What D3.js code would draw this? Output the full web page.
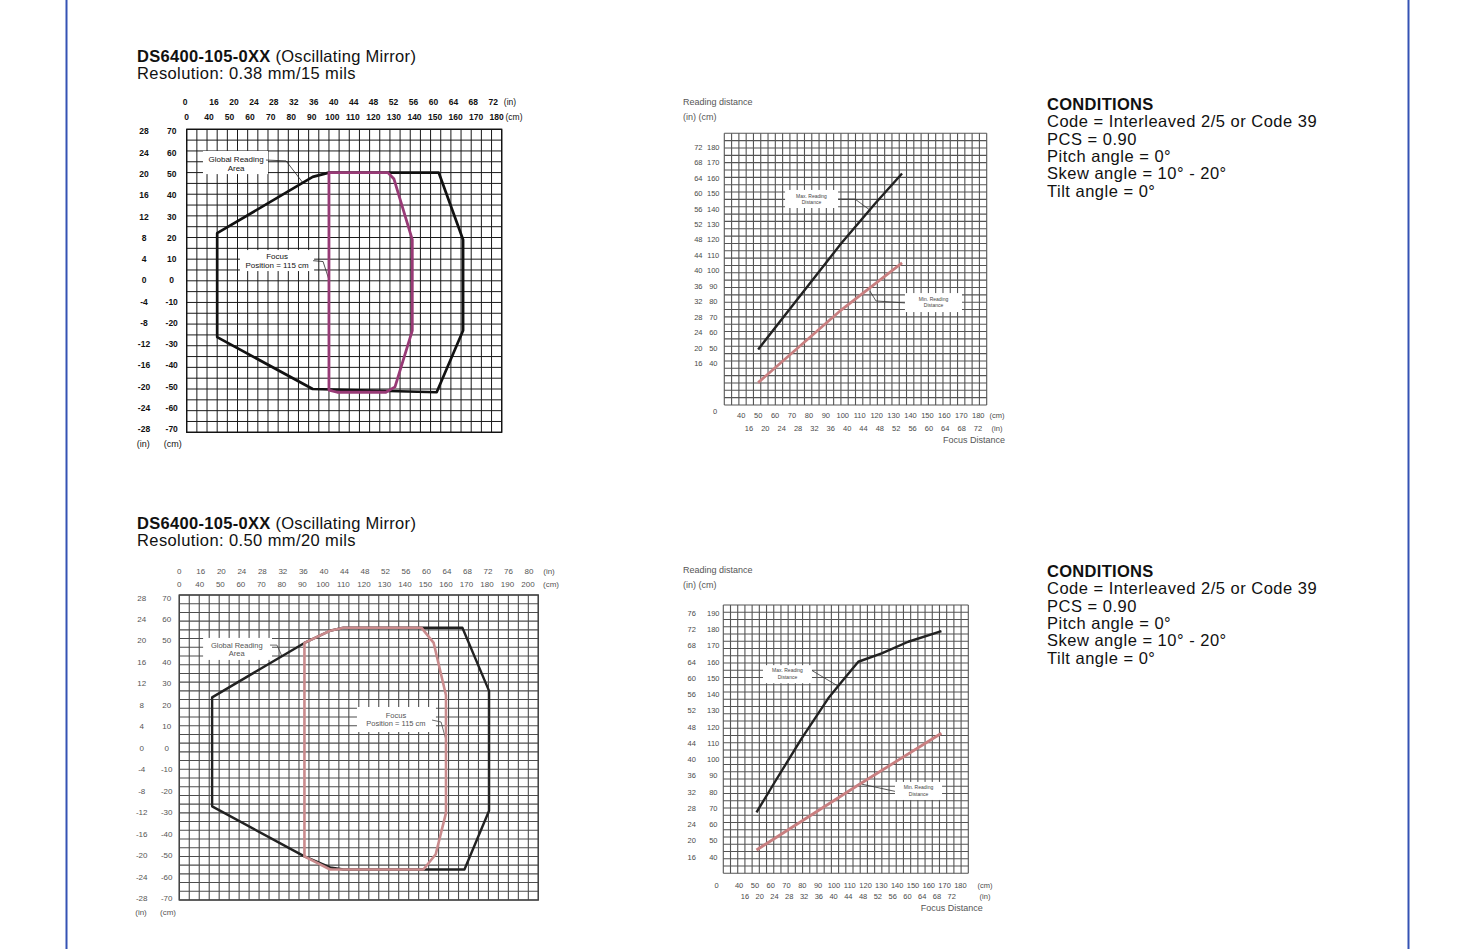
<!DOCTYPE html>
<html><head><meta charset="utf-8">
<script src="https://cdn.jsdelivr.net/npm/d3@7"></script>
<style>
html,body{margin:0;padding:0;background:#fff;}
svg{display:block;font-family:"Liberation Sans",Arial,Helvetica,sans-serif;}
</style>
</head><body>
<svg id="c" width="1470" height="949"></svg>
<script>
// ================= DATA =================
// Chart A : reading area, resolution 0.38 mm (cm units)
const aXTicksCm = [30,40,50,60,70,80,90,100,110,120,130,140,150,160,170,180];
const aXLabelsCm = ["0","40","50","60","70","80","90","100","110","120","130","140","150","160","170","180"];
const aXLabelsIn = ["0","16","20","24","28","32","36","40","44","48","52","56","60","64","68","72"];
const aYTicksCm = [70,60,50,40,30,20,10,0,-10,-20,-30,-40,-50,-60,-70];
const aYLabelsIn = ["28","24","20","16","12","8","4","0","-4","-8","-12","-16","-20","-24","-28"];
const aGlobalArea = [[45,22],[92,48],[100,50],[154,50],[166,19],[166,-23],[153,-51.5],[92,-50],[45,-26]];
const aFocusArea = [[100,50],[129,50],[132,47],[141,19],[141,-23],[132.5,-49],[128,-51.5],[104,-51.5],[100,-50.5]];

// Chart B : reading distance vs focus distance, 0.38 mm (cm)
const bXTicksCm = [40,50,60,70,80,90,100,110,120,130,140,150,160,170,180];
const bXLabelsIn = ["16","20","24","28","32","36","40","44","48","52","56","60","64","68","72"];
const bYTicksCm = [180,170,160,150,140,130,120,110,100,90,80,70,60,50,40];
const bYLabelsIn = ["72","68","64","60","56","52","48","44","40","36","32","28","24","20","16"];
const bMaxDistance = [[50,49],[99,117.6],[119,143.4],[135,163]];
const bMinDistance = [[50,27.5],[99,74.5],[135,105]];

// Chart C : reading area, resolution 0.50 mm (cm units)
const cXTicksCm = [30,40,50,60,70,80,90,100,110,120,130,140,150,160,170,180,190,200];
const cXLabelsCm = ["0","40","50","60","70","80","90","100","110","120","130","140","150","160","170","180","190","200"];
const cXLabelsIn = ["0","16","20","24","28","32","36","40","44","48","52","56","60","64","68","72","76","80"];
const cYTicksCm = [70,60,50,40,30,20,10,0,-10,-20,-30,-40,-50,-60,-70];
const cYLabelsIn = ["28","24","20","16","12","8","4","0","-4","-8","-12","-16","-20","-24","-28"];
const cGlobalArea = [[46,23],[91,48],[103.5,53.6],[110,55],[168,55],[181,26],[181,-29],[169,-56],[110,-56],[103.5,-55],[91,-50],[46,-27]];
const cFocusArea = [[91,48],[103.5,53.6],[110,55],[148,55],[154,48],[160,24],[160,-30],[155,-49],[149,-56],[103.5,-56],[91,-50]];

// Chart D : reading distance vs focus distance, 0.50 mm (cm)
const dXTicksCm = [40,50,60,70,80,90,100,110,120,130,140,150,160,170,180];
const dXLabelsIn = ["16","20","24","28","32","36","40","44","48","52","56","60","64","68","72"];
const dYTicksCm = [190,180,170,160,150,140,130,120,110,100,90,80,70,60,50,40];
const dYLabelsIn = ["76","72","68","64","60","56","52","48","44","40","36","32","28","24","20","16"];
const dMaxDistance = [[51,67.5],[62.7,86.3],[79.6,113],[96.4,137.6],[104.9,147.8],[115.4,160.1],[130.2,165.3],[147,172.4],[168,179]];
const dMinDistance = [[51,44.3],[115.4,84.3],[168,116.1]];

// Text
const titleBold = "DS6400-105-0XX";
const titleRest = " (Oscillating Mirror)";
const resolutions = ["Resolution: 0.38 mm/15 mils","Resolution: 0.50 mm/20 mils"];
const conditions = ["Code = Interleaved 2/5 or Code 39","PCS = 0.90","Pitch angle = 0°","Skew angle = 10° - 20°","Tilt angle = 0°"];

// ================= DRAW =================
const svg = d3.select("#c");
svg.append("rect").attr("width",1470).attr("height",949).attr("fill","#fff");
[66.5,1408.5].forEach(px=>svg.append("line").attr("x1",px).attr("x2",px).attr("y1",0).attr("y2",949)
  .attr("stroke","#3552b4").attr("stroke-width",2));

function header(y0, res){
  const t = svg.append("text").attr("x",137).attr("y",y0).attr("font-size",16.5).attr("letter-spacing",0.3).attr("fill","#111");
  t.append("tspan").attr("font-weight","bold").text(titleBold);
  t.append("tspan").text(titleRest);
  svg.append("text").attr("x",137).attr("y",y0+17.5).attr("font-size",16.5).attr("letter-spacing",0.4).attr("fill","#111").text(res);
}
function conditionsBlock(y0){
  svg.append("text").attr("x",1047).attr("y",y0).attr("font-size",16.5).attr("letter-spacing",0.3)
    .attr("font-weight","bold").attr("fill","#111").text("CONDITIONS");
  conditions.forEach((c,i)=>svg.append("text").attr("x",1047).attr("y",y0+17.3*(i+1))
    .attr("font-size",16.5).attr("letter-spacing",0.5).attr("fill","#111").text(c));
}
header(61.7, resolutions[0]);
header(528.7, resolutions[1]);
conditionsBlock(110);
conditionsBlock(577);

function makeChart(o){
  const x = d3.scaleLinear().domain(o.xDom).range(o.xRange);
  const y = d3.scaleLinear().domain(o.yDom).range(o.yRange);
  const g = svg.append("g");
  const gx = d3.range(o.cellsX+1).map(i=>o.xDom[0]+i*(o.xDom[1]-o.xDom[0])/o.cellsX);
  const gy = d3.range(o.cellsY+1).map(i=>o.yDom[0]+i*(o.yDom[1]-o.yDom[0])/o.cellsY);
  g.selectAll(null).data(gx).join("line")
    .attr("x1",d=>x(d)).attr("x2",d=>x(d)).attr("y1",o.yRange[0]).attr("y2",o.yRange[1])
    .attr("stroke",o.gridColor).attr("stroke-width",o.gridWidth);
  g.selectAll(null).data(gy).join("line")
    .attr("y1",d=>y(d)).attr("y2",d=>y(d)).attr("x1",o.xRange[0]).attr("x2",o.xRange[1])
    .attr("stroke",o.gridColor).attr("stroke-width",o.gridWidth);
  g.append("rect").attr("x",o.xRange[0]).attr("y",o.yRange[0])
    .attr("width",o.xRange[1]-o.xRange[0]).attr("height",o.yRange[1]-o.yRange[0])
    .attr("fill","none").attr("stroke",o.borderColor).attr("stroke-width",o.gridWidth*1.3);
  return {x,y,g};
}
function label(g,px,py,txt,o){
  return g.append("text").attr("x",px).attr("y",py).attr("dy","0.35em")
    .attr("text-anchor",o.anchor||"middle").attr("font-size",o.size)
    .attr("font-weight",o.weight||"normal").attr("fill",o.fill).text(txt);
}
function annotation(ch, box, lines, textAt, leader, st){
  const {x,y,g} = ch;
  g.append("rect").attr("x",x(box[0])).attr("y",y(box[1])).attr("width",x(box[2])-x(box[0]))
    .attr("height",y(box[3])-y(box[1])).attr("fill","#fff");
  lines.forEach((t,i)=>label(g,x(textAt[0]),y(textAt[1])+i*st.lineH,t,{size:st.size,fill:st.fill}));
  g.append("path").attr("d",d3.line().x(d=>x(d[0])).y(d=>y(d[1]))(leader))
    .attr("fill","none").attr("stroke",st.leader).attr("stroke-width",0.8);
}
const lineGen = ch => d3.line().x(d=>ch.x(d[0])).y(d=>ch.y(d[1]));

// ---------- Chart A ----------
{
  const ch = makeChart({xDom:[30,185],yDom:[70,-70],xRange:[186.7,501.7],yRange:[129.3,432.3],
    cellsX:31,cellsY:28,gridColor:"#1a1a1a",gridWidth:1,borderColor:"#111"});
  const st = {size:8.5,weight:"bold",fill:"#111"};
  const lx = d3.scaleLinear().domain([40,180]).range([209,496.7]);
  const lxi = d3.scaleLinear().domain([1,15]).range([214,493.3]);
  const ly = d3.scaleLinear().domain([70,-70]).range([131.5,429.3]);
  aXTicksCm.forEach((v,i)=>{
    label(ch.g,i?lx(v):186.7,117.3,aXLabelsCm[i],st);
    label(ch.g,i?lxi(i):185,102.3,aXLabelsIn[i],st);
  });
  label(ch.g,510,102.3,"(in)",{size:8.5,fill:"#111"});
  label(ch.g,514,117.3,"(cm)",{size:8.5,fill:"#111"});
  aYTicksCm.forEach((v,i)=>{
    label(ch.g,171.7,ly(v),String(v),st);
    label(ch.g,144,ly(v),aYLabelsIn[i],st);
  });
  label(ch.g,143.3,444.3,"(in)",{size:9,fill:"#111"});
  label(ch.g,172.7,444.3,"(cm)",{size:9,fill:"#111"});
  const an = {size:8,fill:"#111",lineH:8.8,leader:"#222"};
  annotation(ch,[38,60,70,49.3],["Global Reading","Area"],[54.3,56.3],[[69,55.8],[78.9,55.4],[87,45.5]],an);
  annotation(ch,[56.2,14.2,92.7,4.5],["Focus","Position = 115 cm"],[74.5,11.2],[[92.2,9.3],[97.1,8.9],[100,0.5]],an);
  ch.g.append("path").attr("d",lineGen(ch)(aGlobalArea)+"Z").attr("fill","none")
    .attr("stroke","#111").attr("stroke-width",2.7).attr("stroke-linejoin","round");
  ch.g.append("path").attr("d",lineGen(ch)(aFocusArea)+"Z").attr("fill","none")
    .attr("stroke","#983a76").attr("stroke-width",2.8).attr("stroke-linejoin","round");
}

// ---------- Chart B ----------
{
  const ch = makeChart({xDom:[30,185],yDom:[13,189],xRange:[724.3,986.7],yRange:[405,133.3],
    cellsX:36,cellsY:37,gridColor:"#555",gridWidth:1.1,borderColor:"#444"});
  const st = {size:7.5,fill:"#4a4a4a"};
  const lxi = d3.scaleLinear().domain([0,14]).range([749,978]);
  bXTicksCm.forEach((v,i)=>{
    label(ch.g,ch.x(v),415,String(v),st);
    label(ch.g,lxi(i),428.3,bXLabelsIn[i],st);
  });
  label(ch.g,715,411,"0",st);
  label(ch.g,997,415,"(cm)",st);
  label(ch.g,997,428.3,"(in)",st);
  label(ch.g,1005,440,"Focus Distance",{size:9,fill:"#555",anchor:"end"});
  bYTicksCm.forEach((v,i)=>{
    label(ch.g,713.3,ch.y(v),String(v),st);
    label(ch.g,698.3,ch.y(v),bYLabelsIn[i],st);
  });
  label(ch.g,683,102,"Reading distance",{size:9,fill:"#555",anchor:"start"});
  label(ch.g,683,117,"(in) (cm)",{size:9,fill:"#555",anchor:"start"});
  const an = {size:5,fill:"#444",lineH:6.5,leader:"#333"};
  annotation(ch,[65.9,152.3,97.2,140.6],["Max. Reading","Distance"],[81.5,148.3],[[97.2,146.4],[107.2,146.4],[116.7,138.7]],an);
  annotation(ch,[136.7,85.5,170.4,73.2],["Min. Reading","Distance"],[153.6,81.8],[[136.7,79.1],[119.6,80.4],[116,86.8]],an);
  ch.g.append("path").attr("d",lineGen(ch)(bMinDistance)).attr("fill","none")
    .attr("stroke","#c97f80").attr("stroke-width",2.8);
  ch.g.append("path").attr("d",lineGen(ch)(bMaxDistance)).attr("fill","none")
    .attr("stroke","#222").attr("stroke-width",2.4);
}

// ---------- Chart C ----------
{
  const ch = makeChart({xDom:[30,205],yDom:[70,-70],xRange:[179.3,538.3],yRange:[595,900],
    cellsX:36,cellsY:35,gridColor:"#4d4d4d",gridWidth:1.1,borderColor:"#444"});
  const st = {size:8,fill:"#555"};
  const ly = d3.scaleLinear().domain([70,-70]).range([597.7,898.3]);
  cXTicksCm.forEach((v,i)=>{
    label(ch.g,ch.x(v),584.3,cXLabelsCm[i],st);
    label(ch.g,ch.x(v)+(i?1:0),571,cXLabelsIn[i],st);
  });
  label(ch.g,549,571,"(in)",st);
  label(ch.g,551,584.3,"(cm)",st);
  cYTicksCm.forEach((v,i)=>{
    label(ch.g,166.7,ly(v),String(v),st);
    label(ch.g,141.7,ly(v),cYLabelsIn[i],st);
  });
  label(ch.g,141,911.7,"(in)",st);
  label(ch.g,168,911.7,"(cm)",st);
  const an = {size:7.5,fill:"#555",lineH:8.3,leader:"#444"};
  annotation(ch,[41.6,50.3,75.2,40.2],["Global Reading","Area"],[58,47],[[74.2,47],[77.6,47],[80,42]],an);
  annotation(ch,[116.6,18.6,155.1,7.1],["Focus","Position = 115 cm"],[135.6,14.9],[[153.2,12.6],[157.6,11.7],[160,3.4]],an);
  ch.g.append("path").attr("d",lineGen(ch)(cGlobalArea)+"Z").attr("fill","none")
    .attr("stroke","#222").attr("stroke-width",2.4).attr("stroke-linejoin","round");
  ch.g.append("path").attr("d",lineGen(ch)(cFocusArea)+"Z").attr("fill","none")
    .attr("stroke","#c98a8c").attr("stroke-width",2.6).attr("stroke-linejoin","round");
}

// ---------- Chart D ----------
{
  const ch = makeChart({xDom:[30,185],yDom:[30,195],xRange:[723.3,968.3],yRange:[873.3,605],
    cellsX:34,cellsY:37,gridColor:"#555",gridWidth:1.1,borderColor:"#444"});
  const st = {size:7.5,fill:"#4a4a4a"};
  const lxi = d3.scaleLinear().domain([0,14]).range([745,951.7]);
  dXTicksCm.forEach((v,i)=>{
    label(ch.g,ch.x(v),885,String(v),st);
    label(ch.g,lxi(i),896.7,dXLabelsIn[i],st);
  });
  label(ch.g,716.7,885,"0",st);
  label(ch.g,985,885,"(cm)",st);
  label(ch.g,985,896.7,"(in)",st);
  label(ch.g,951.7,908.3,"Focus Distance",{size:9,fill:"#555"});
  dYTicksCm.forEach((v,i)=>{
    label(ch.g,713.3,ch.y(v),String(v),st);
    label(ch.g,691.7,ch.y(v),dYLabelsIn[i],st);
  });
  label(ch.g,683,570,"Reading distance",{size:9,fill:"#555",anchor:"start"});
  label(ch.g,683,585,"(in) (cm)",{size:9,fill:"#555",anchor:"start"});
  const an = {size:5,fill:"#444",lineH:6.5,leader:"#333"};
  annotation(ch,[55.1,158,86.1,146.9],["Max. Reading","Distance"],[70.6,154.6],[[86.1,154.7],[102,145.5]],an);
  annotation(ch,[138.6,86.2,168.4,75.1],["Min. Reading","Distance"],[153.5,82.8],[[138.6,80.4],[117.7,84.8]],an);
  ch.g.append("path").attr("d",lineGen(ch)(dMinDistance)).attr("fill","none")
    .attr("stroke","#c97f80").attr("stroke-width",2.8);
  ch.g.append("path").attr("d",lineGen(ch)(dMaxDistance)).attr("fill","none")
    .attr("stroke","#222").attr("stroke-width",2.4).attr("stroke-linejoin","round");
}
</script>
</body></html>
